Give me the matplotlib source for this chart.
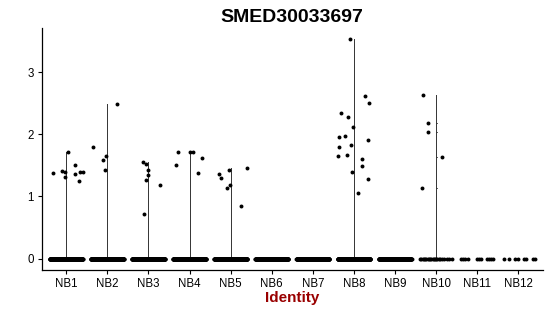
import numpy as np
import matplotlib
matplotlib.use("Agg")
import matplotlib.pyplot as plt

plt.rcParams['font.family'] = ['Liberation Sans', 'DejaVu Sans']

groups = ['NB1', 'NB2', 'NB3', 'NB4', 'NB5', 'NB6', 'NB7', 'NB8', 'NB9', 'NB10', 'NB11', 'NB12']

# expressed values (non-zero) per group
expr = {
    'NB1': [1.37, 1.41, 1.40, 1.32, 1.71, 1.50, 1.36, 1.25, 1.40, 1.39],
    'NB2': [1.80, 1.59, 1.65, 1.42, 2.49],
    'NB3': [1.56, 1.53, 1.42, 1.35, 1.27, 0.72, 1.18],
    'NB4': [1.50, 1.72, 1.71, 1.71, 1.38, 1.62],
    'NB5': [1.36, 1.30, 1.13, 1.18, 1.42, 0.84, 1.45],
    'NB8': [3.53, 2.62, 2.51, 2.34, 2.28, 2.12, 1.95, 1.98, 1.80, 1.83,
            1.91, 1.65, 1.66, 1.60, 1.49, 1.39, 1.28, 1.05],
    'NB10': [2.64, 2.18, 2.04, 1.64, 1.14],
}
# horizontal jitter of those points (fraction of a category)
jitter = {
    'NB1': [-0.33, -0.11, -0.03, -0.04, 0.04, 0.21, 0.21, 0.31, 0.34, 0.41],
    'NB2': [-0.35, -0.11, -0.03, -0.05, 0.24],
    'NB3': [-0.12, -0.07, -0.02, -0.02, -0.06, -0.11, 0.27],
    'NB4': [-0.34, -0.29, 0.02, 0.09, 0.20, 0.31],
    'NB5': [-0.28, -0.24, -0.09, -0.01, -0.03, 0.24, 0.40],
    'NB8': [-0.10, 0.26, 0.36, -0.31, -0.15, -0.02, -0.36, -0.23, -0.37, -0.08,
            0.35, -0.39, -0.18, 0.20, 0.20, -0.06, 0.33, 0.10],
    'NB10': [-0.33, -0.20, -0.20, 0.15, -0.34],
}
# number of cells with zero expression
n_zero = [300, 300, 300, 300, 300, 250, 250, 250, 200, 40, 11, 8]
# sparse groups: hand-read zero positions
zero_pos = {
    'NB10': [-0.40, -0.36, -0.33, -0.30, -0.27, -0.24, -0.21, -0.18, -0.15, -0.12,
             -0.09, -0.06, -0.03, 0.0, 0.03, 0.06, 0.10, 0.13, 0.18, 0.26, 0.30, 0.38],
    'NB11': [-0.39, -0.34, -0.29, -0.22, -0.02, 0.04, 0.10, 0.23, 0.28, 0.33, 0.39],
    'NB12': [-0.36, -0.24, -0.09, -0.02, 0.13, 0.19, 0.35, 0.41],
}

fig = plt.figure(figsize=(5.5, 3.16), dpi=100)
ax = fig.add_axes([0.0755, 0.147, 0.912, 0.764])

for i, g in enumerate(groups):
    x0 = i + 1
    if g in zero_pos:
        zx = x0 + np.array(zero_pos[g])
    else:
        zx = x0 + np.linspace(-0.4, 0.4, n_zero[i])
    ax.scatter(zx, np.zeros(len(zx)), s=8, color='black', linewidths=0, zorder=3)
    if g in expr:
        vals = np.array(expr[g])
        ax.plot([x0, x0], [0, vals.max()], color='#333333', lw=0.7, zorder=2)
        ax.scatter(x0 + np.array(jitter[g]), vals, s=8, color='black', linewidths=0, zorder=3)
        if g == 'NB10':
            for v in vals[1:]:
                ax.plot([x0 - 0.015, x0 + 0.015], [v, v], color='#333333', lw=0.6)

ax.set_xlim(0.4, 12.6)
ax.set_ylim(-0.177, 3.71)
ax.set_xticks(range(1, len(groups) + 1))
ax.set_xticklabels(groups)
ax.set_yticks([0, 1, 2, 3])
for s in ['top', 'right']:
    ax.spines[s].set_visible(False)
for s in ['left', 'bottom']:
    ax.spines[s].set_linewidth(0.9)
ax.tick_params(axis='both', length=3, width=0.8, labelsize=8.3, colors='black')
ax.tick_params(axis='x', pad=3)
ax.tick_params(axis='y', pad=2.5)

fig.text(0.531, 0.946, 'SMED30033697', ha='center', va='center', fontsize=14, fontweight='bold')
fig.text(0.531, 0.057, 'Identity', ha='center', va='center', fontsize=11, fontweight='bold', color='#990000')

fig.savefig('out.png', dpi=100)
